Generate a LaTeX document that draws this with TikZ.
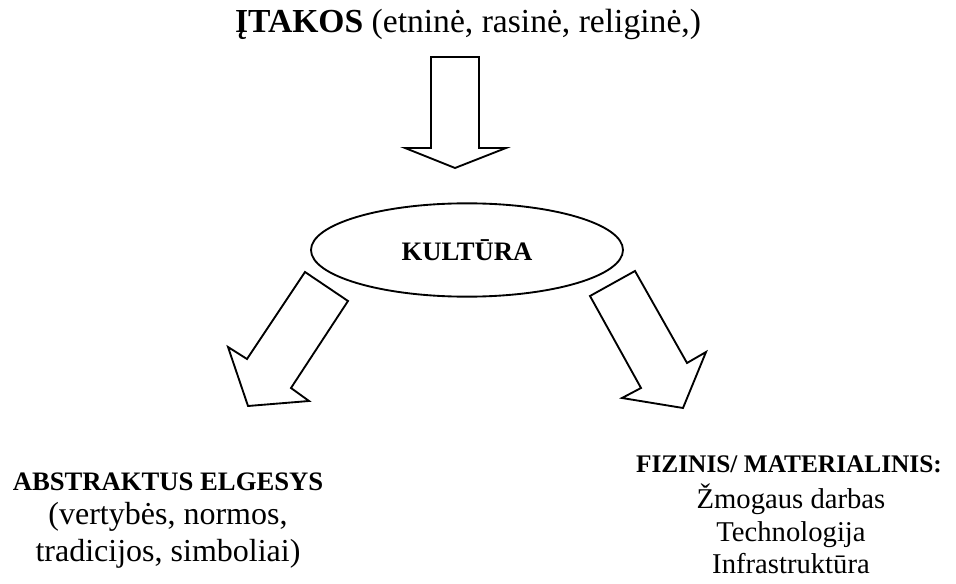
\documentclass[tikz,border=0pt]{standalone}
\usepackage{fontspec}
\setmainfont{Liberation Serif}
\usetikzlibrary{shapes.geometric}
\tikzset{
  blokas/.style={line width=1.4pt, fill=white, line join=miter},
  eilute/.style={anchor=base, inner sep=0pt},
  pavad/.style={eilute, font=\fontsize{20}{24}\selectfont\bfseries}
}
\begin{document}
\begin{tikzpicture}[x=0.75pt, y=-0.75pt]
	\useasboundingbox (0,0) rectangle (956,584);
	% Antraštė viršuje
	\node[eilute, font=\fontsize{25.2}{29}\selectfont] (itakos) at (468,33) {\textbf{ĮTAKOS} (etninė, rasinė, religinė,)};
	% Rodyklė žemyn
	\draw[blokas] (431,57) -- (479,57) -- (479,148) -- (506,148) -- (455,168) -- (405,148) -- (431,148) -- cycle;
	% Elipsė
	\node[ellipse, draw, line width=1.4pt, minimum width=234pt, minimum height=70pt, inner sep=0pt, font=\fontsize{20}{24}\selectfont\bfseries] (kultura) at (467,250) {KULTŪRA};
	% Įstrižos rodyklės
	\draw[blokas] (305,272) -- (348,301) -- (291,388) -- (309,401) -- (248,406) -- (228,347) -- (247,359) -- cycle;
	\draw[blokas] (590,296) -- (635,271) -- (687,363) -- (706,352) -- (683,408) -- (622,398) -- (641,388) -- cycle;
	% Kairėje apačioje
	\node[pavad] (abstr) at (168,490) {ABSTRAKTUS ELGESYS};
	\node[eilute, font=\fontsize{24}{28}\selectfont] (abstr2) at (168,524) {(vertybės, normos,};
	\node[eilute, font=\fontsize{24}{28}\selectfont] (abstr3) at (168,561) {tradicijos, simboliai)};
	% Dešinėje apačioje
	\node[pavad, font=\fontsize{19}{23}\selectfont\bfseries] (fizin) at (789,472) {FIZINIS/ MATERIALINIS:};
	\node[eilute, font=\fontsize{21.5}{25}\selectfont] (fizin2) at (791,508) {Žmogaus darbas};
	\node[eilute, font=\fontsize{21.5}{25}\selectfont] (fizin3) at (791,541) {Technologija};
	\node[eilute, font=\fontsize{21.5}{25}\selectfont] (fizin4) at (791,573) {Infrastruktūra};
\end{tikzpicture}
\end{document}
